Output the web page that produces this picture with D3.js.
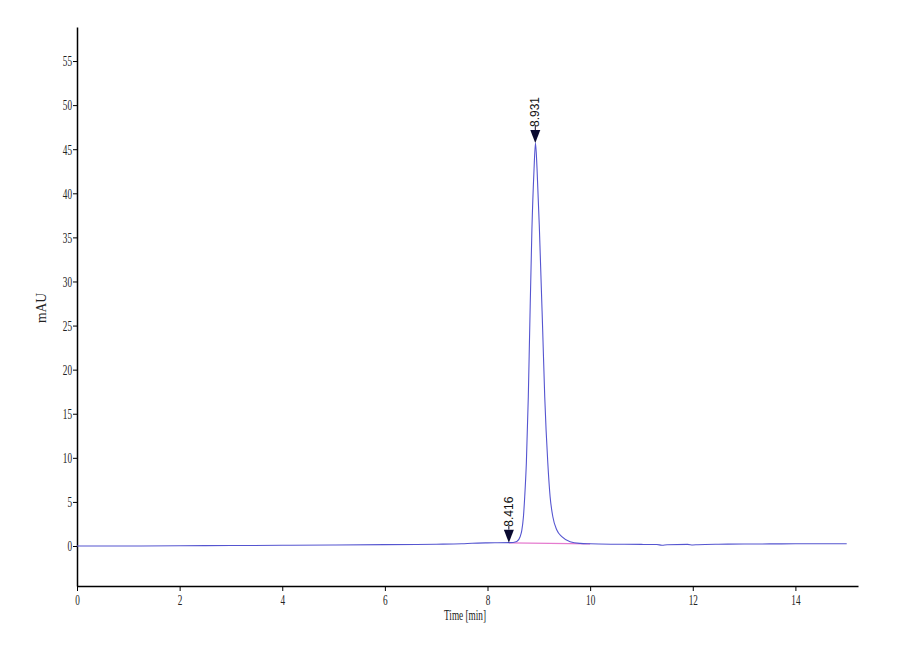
<!DOCTYPE html>
<html>
<head>
<meta charset="utf-8">
<script src="https://cdn.jsdelivr.net/npm/d3@7"></script>
<style>
  body { margin: 0; background: #fff; }
  svg { display: block; }
  .axis text { font-family: "Liberation Serif", "DejaVu Serif", serif; font-size: 15px; fill: #222; }
  .axis path, .axis line { stroke: #000; }
  .lbl { font-family: "Liberation Serif", "DejaVu Serif", serif; font-size: 14px; fill: #222; }
  .pk { font-family: "Liberation Sans", Arial, sans-serif; font-size: 12px; fill: #111; }
</style>
</head>
<body>
<div id="chart"></div>
<script>
// trace (time in min, signal in mAU)
const traceTimes = [0, 1, 2, 3, 4, 5, 6, 7, 7.5, 7.7, 8.0, 8.2, 8.416, 8.5, 8.571, 8.635, 8.669, 8.70,
    8.725, 8.757, 8.795, 8.822, 8.865, 8.905, 8.935, 8.965, 9.012, 9.075, 9.115, 9.175, 9.22, 9.273,
    9.351, 9.448, 9.61, 9.805, 10.0, 10.5, 11.0, 11.3, 11.4, 11.5, 11.9, 12.0, 12.1, 12.5, 13.0, 13.5,
    14.0, 14.5, 15.0];
const traceValues = [0.0, 0.0, 0.03, 0.05, 0.08, 0.12, 0.16, 0.2, 0.25, 0.32, 0.36, 0.37, 0.38, 0.4, 0.5, 1.05, 1.81, 3.32,
    5.59, 9.41, 16.93, 24.5, 35.84, 42.5, 45.7, 42.8, 35.84, 24.5, 16.93, 9.41, 5.59, 3.32,
    1.81, 1.05, 0.49, 0.3, 0.25, 0.2, 0.18, 0.17, 0.08, 0.14, 0.18, 0.12, 0.15, 0.2, 0.22, 0.24,
    0.25, 0.25, 0.25];

// integration baseline of the peak
const baseTimes = [8.416, 10.0];
const baseValues = [0.36, 0.24];

// peak markers
const peakTimes = [8.416, 8.931];
const peakValues = [0.38, 45.7];
const peakLabels = ["8.416", "8.931"];

const xTicks = [0, 2, 4, 6, 8, 10, 12, 14];
const yTicks = [0, 5, 10, 15, 20, 25, 30, 35, 40, 45, 50, 55];

const width = 900, height = 660;
const digitW = 4.6; // narrow, condensed digits as in the export

const x = d3.scaleLinear().domain([0, 15.22]).range([77, 858]);
const y = d3.scaleLinear().domain([-4.536, 58.86]).range([586, 27]);

const svg = d3.select("#chart").append("svg")
    .attr("width", width)
    .attr("height", height);

function condense(sel) {
    sel.selectAll(".tick text")
        .attr("textLength", function () { return this.textContent.length * digitW; })
        .attr("lengthAdjust", "spacingAndGlyphs");
}

// axes
svg.append("g")
    .attr("class", "axis")
    .attr("transform", "translate(77,0)")
    .call(d3.axisLeft(y).tickValues(yTicks).tickSize(4).tickSizeOuter(0).tickPadding(1))
    .call(g => g.select(".domain").attr("stroke-width", 1.5))
    .call(condense);

svg.append("g")
    .attr("class", "axis")
    .attr("transform", "translate(0,586)")
    .call(d3.axisBottom(x).tickValues(xTicks).tickSize(5).tickSizeOuter(0).tickPadding(3))
    .call(g => g.select(".domain").attr("stroke-width", 1.5))
    .call(condense);

svg.append("text")
    .attr("class", "lbl")
    .attr("x", 444)
    .attr("y", 620)
    .attr("textLength", 42)
    .attr("lengthAdjust", "spacingAndGlyphs")
    .text("Time [min]");

svg.append("text")
    .attr("class", "lbl")
    .attr("transform", "translate(46,323) rotate(-90)")
    .attr("textLength", 30)
    .attr("lengthAdjust", "spacingAndGlyphs")
    .text("mAU");

// baseline
const baseData = baseTimes.map((t, i) => [t, baseValues[i]]);
svg.append("path")
    .datum(baseData)
    .attr("fill", "none")
    .attr("stroke", "#e57bcf")
    .attr("stroke-width", 1.2)
    .attr("d", d3.line().x(d => x(d[0])).y(d => y(d[1])));

// trace
const traceData = traceTimes.map((t, i) => [t, traceValues[i]]);
svg.append("path")
    .datum(traceData)
    .attr("fill", "none")
    .attr("stroke", "#5555d0")
    .attr("stroke-width", 1.1)
    .attr("d", d3.line().curve(d3.curveMonotoneX).x(d => x(d[0])).y(d => y(d[1])));

// peak markers
const peaks = peakTimes.map((t, i) => ({ t: t, v: peakValues[i], label: peakLabels[i] }));
const pk = svg.selectAll("g.peak")
    .data(peaks)
    .enter().append("g")
    .attr("class", "peak")
    .attr("transform", d => `translate(${x(d.t)},${y(d.v)})`);

pk.append("path")
    .attr("d", "M0,0 L-5,-13 L5,-13 Z")
    .attr("fill", "#0a0a30");

pk.append("line")
    .attr("x1", 0).attr("x2", 0)
    .attr("y1", -13).attr("y2", -17)
    .attr("stroke", "#0a0a30");

pk.append("text")
    .attr("class", "pk")
    .attr("transform", "translate(4,-16) rotate(-90)")
    .attr("text-anchor", "start")
    .text(d => d.label);
</script>
</body>
</html>
